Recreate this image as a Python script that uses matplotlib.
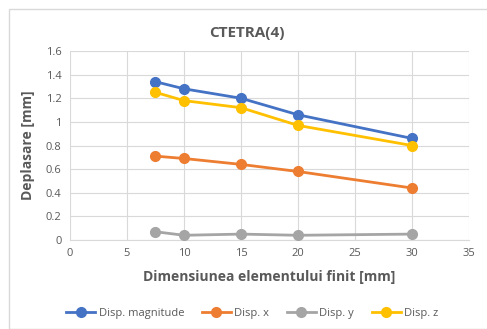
import matplotlib
matplotlib.use('Agg')
import matplotlib.pyplot as plt
from matplotlib.patches import Rectangle

plt.rcParams['font.family'] = ['Open Sans', 'DejaVu Sans']

# element size [mm]
elem_size = [7.5, 10, 15, 20, 30]
disp_mag = [1.34, 1.28, 1.20, 1.06, 0.86]
disp_x = [0.71, 0.69, 0.64, 0.58, 0.44]
disp_y = [0.07, 0.04, 0.05, 0.04, 0.05]
disp_z = [1.25, 1.18, 1.12, 0.97, 0.80]

series = [
    ('Disp. magnitude', disp_mag, '#4472C4'),
    ('Disp. x', disp_x, '#ED7D31'),
    ('Disp. y', disp_y, '#A5A5A5'),
    ('Disp. z', disp_z, '#FFC000'),
]

fig = plt.figure(figsize=(4.87, 3.29), dpi=100)
ax = fig.add_axes([0.1437, 0.2705, 0.8193, 0.5745])

# light frame around the chart area
fig.patches.append(Rectangle((0.019, 0.0), 1.0, 0.972, transform=fig.transFigure,
                             fill=False, edgecolor='#D9D9D9', linewidth=1.0))

for name, vals, col in series:
    ax.plot(elem_size, vals, color=col, linewidth=2, marker='o', markersize=7,
            label=name, zorder=3)

ax.set_xlim(0, 35)
ax.set_ylim(0, 1.6)
ax.set_xticks(range(0, 36, 5))
ax.set_yticks([0, 0.2, 0.4, 0.6, 0.8, 1.0, 1.2, 1.4, 1.6])
ax.set_yticklabels(['0', '0.2', '0.4', '0.6', '0.8', '1', '1.2', '1.4', '1.6'])
ax.grid(True, color='#D9D9D9', linewidth=0.8)
ax.set_axisbelow(True)
for s in ax.spines.values():
    s.set_visible(False)
ax.spines['bottom'].set_visible(True)
ax.spines['bottom'].set_color('#D9D9D9')
ax.tick_params(length=0, labelsize=8, colors='#595959', pad=6)

fig.text(0.507, 0.9, 'CTETRA(4)', fontsize=11, fontweight='bold', color='#595959',
         ha='center', va='center')
ax.set_xlabel('Dimensiunea elementului finit [mm]', fontsize=10, fontweight='bold',
              color='#595959', labelpad=8)
ax.set_ylabel('Deplasare [mm]', fontsize=10, fontweight='bold', color='#595959', labelpad=8)

ax.legend(loc='center', bbox_to_anchor=(0.457, -0.39), ncol=4, frameon=False,
          fontsize=8, labelcolor='#595959', handlelength=2.6, columnspacing=1.6,
          handletextpad=0.3)

fig.savefig('out.png', dpi=100)
